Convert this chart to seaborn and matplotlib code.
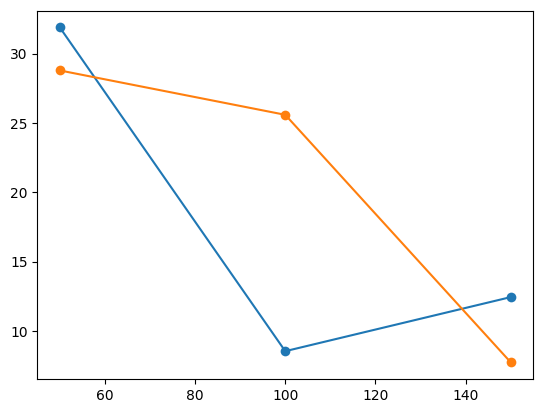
import matplotlib
matplotlib.use("Agg")
import matplotlib.pyplot as plt
import seaborn as sns
import pandas as pd

x_values = [50, 100, 150]
series_a = [31.9, 8.55, 12.45]
series_b = [28.8, 25.6, 7.75]
series_names = ["A", "B"]
colors = ["#1f77b4", "#ff7f0e"]

df = pd.DataFrame({
    "x": x_values * 2,
    "y": series_a + series_b,
    "series": [series_names[0]] * 3 + [series_names[1]] * 3,
})

fig, ax = plt.subplots(figsize=(5.43, 4.13), dpi=100)
fig.subplots_adjust(left=0.0687, right=0.982, top=0.974, bottom=0.0823)
sns.lineplot(data=df, x="x", y="y", hue="series", palette=colors, marker="o",
             markersize=7, markeredgewidth=0, linewidth=1.5, legend=False, ax=ax)
ax.set_xlabel("")
ax.set_ylabel("")
fig.savefig("out.png", dpi=100)
